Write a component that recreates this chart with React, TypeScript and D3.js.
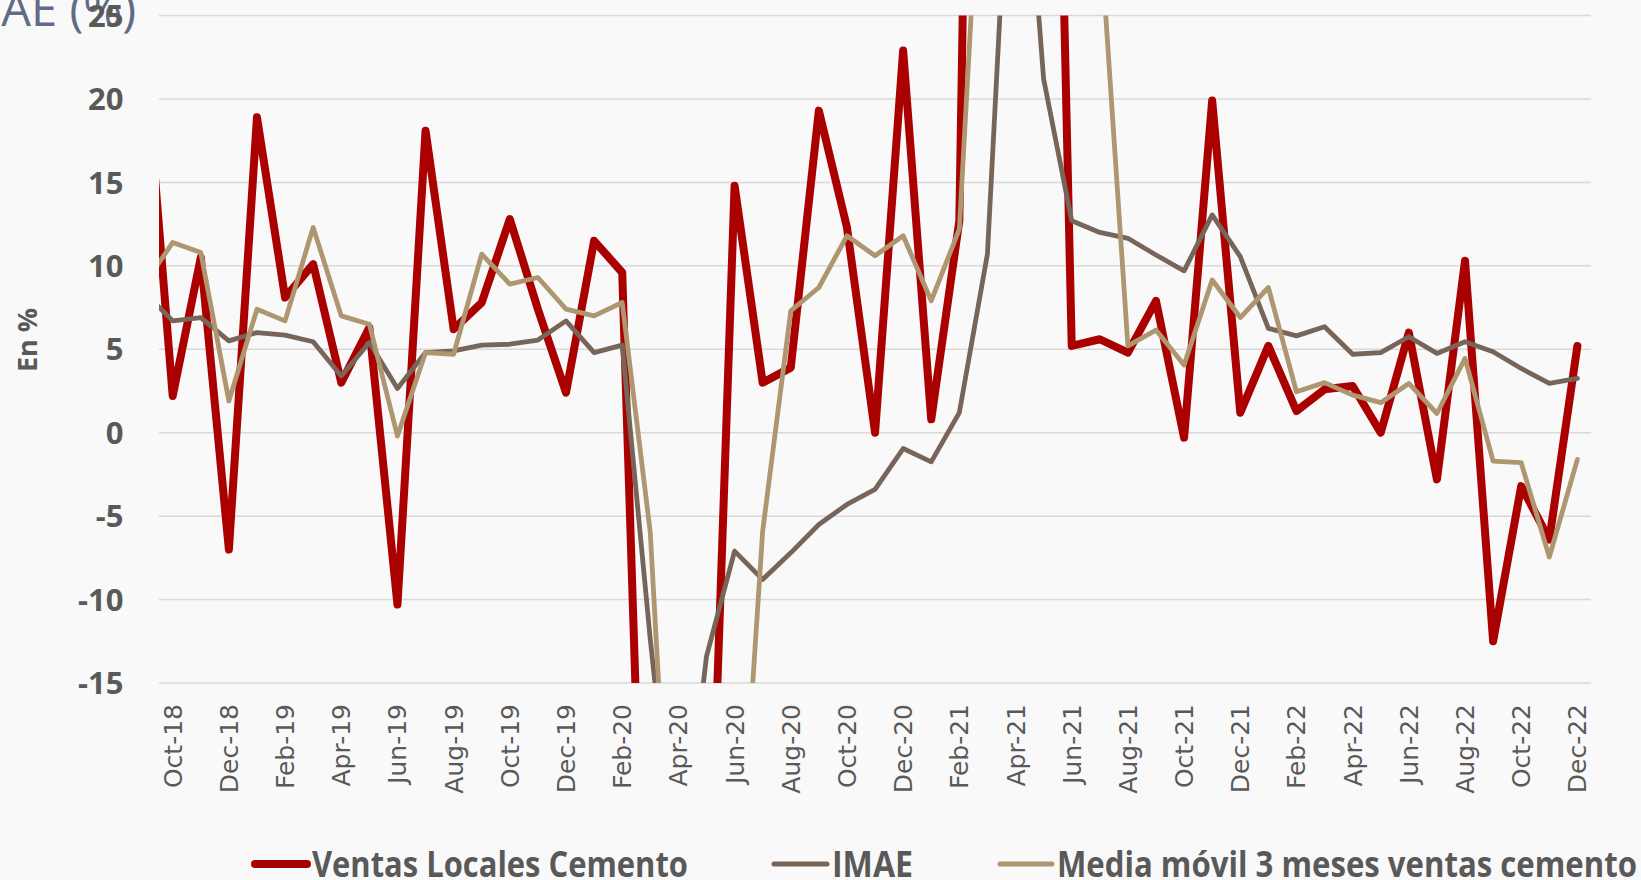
import React from 'react';
import * as d3 from 'd3';

const months = [
  'Sep-18', 'Oct-18', 'Nov-18', 'Dec-18',
  'Jan-19', 'Feb-19', 'Mar-19', 'Apr-19', 'May-19', 'Jun-19', 'Jul-19', 'Aug-19', 'Sep-19', 'Oct-19', 'Nov-19', 'Dec-19',
  'Jan-20', 'Feb-20', 'Mar-20', 'Apr-20', 'May-20', 'Jun-20', 'Jul-20', 'Aug-20', 'Sep-20', 'Oct-20', 'Nov-20', 'Dec-20',
  'Jan-21', 'Feb-21', 'Mar-21', 'Apr-21', 'May-21', 'Jun-21', 'Jul-21', 'Aug-21', 'Sep-21', 'Oct-21', 'Nov-21', 'Dec-21',
  'Jan-22', 'Feb-22', 'Mar-22', 'Apr-22', 'May-22', 'Jun-22', 'Jul-22', 'Aug-22', 'Sep-22', 'Oct-22', 'Nov-22', 'Dec-22',
];

const ventas = [
  23, 2.2, 10.5, -7.0,
  18.9, 8.1, 10.1, 3.0, 6.3, -10.3, 18.1, 6.2, 7.8, 12.8, 7.4, 2.4,
  11.5, 9.6, -43, -76, -34, 14.8, 3.0, 3.9, 19.3, 12.3, 0.0, 22.9,
  0.8, 12.7, 115, 250, 80, 5.2, 5.6, 4.8, 7.9, -0.3, 19.9, 1.2,
  5.2, 1.3, 2.6, 2.8, 0.0, 6.0, -2.8, 10.3, -12.5, -3.2, -6.4, 5.2,
];

const imae = [
  8.4, 6.7, 6.9, 5.5,
  6.0, 5.85, 5.45, 3.4, 5.4, 2.65, 4.8, 4.9, 5.25, 5.3, 5.55, 6.7,
  4.8, 5.25, -12.4, -28, -13.4, -7.1, -8.8, -7.2, -5.5, -4.3, -3.4, -0.95,
  -1.75, 1.2, 10.7, 43, 21.2, 12.7, 12.0, 11.65, 10.65, 9.7, 13.05, 10.55,
  6.25, 5.8, 6.35, 4.7, 4.8, 5.75, 4.75, 5.45, 4.85, 3.85, 2.95, 3.25,
];

const media = [
  8.9, 11.4, 10.8, 1.9,
  7.4, 6.7, 12.3, 7.0, 6.5, -0.2, 4.8, 4.7, 10.7, 8.9, 9.3, 7.4,
  7.0, 7.8, -6.0, -36.5, -51, -31.7, -5.9, 7.3, 8.7, 11.8, 10.6, 11.8,
  7.9, 12.2, 42.8, 125.9, 148, 111.7, 30.3, 5.2, 6.15, 4.05, 9.15, 6.9,
  8.7, 2.45, 3.0, 2.25, 1.8, 2.95, 1.15, 4.45, -1.7, -1.8, -7.45, -1.6,
];

const yTicks = [25, 20, 15, 10, 5, 0, -5, -10, -15];

const seriesNames = ['Ventas Locales Cemento', 'IMAE', 'Media móvil 3 meses ventas cemento'];
const seriesColors = ['#AA0000', '#776559', '#AD9670'];

export default function App() {
  const W = 1641;
  const H = 880;
  const plotLeft = 159;
  const plotRight = 1591;
  const plotTop = 15.5;
  const plotBottom = 683;

  const x = d3.scaleLinear().domain([1, months.length - 1]).range([172.7, 1577.4]);
  const y = d3.scaleLinear().domain([-15, 25]).range([plotBottom, plotTop]);

  const line = d3
    .line<number>()
    .x((_, i) => x(i))
    .y((d) => y(d));

  const labelIdx = months.map((_, i) => i).filter((i) => i % 2 === 1);

  const legendItems = [
    { sx1: 255, sx2: 307, w: 8, tx: 312, tl: 376 },
    { sx1: 774, sx2: 827, w: 5, tx: 832, tl: 81 },
    { sx1: 1000, sx2: 1052, w: 5, tx: 1057, tl: 580 },
  ];

  return (
    <svg
      width={W}
      height={H}
      style={{ position: 'absolute', left: 0, top: 0, display: 'block' }}
    >
      <defs>
        <clipPath id="plotClip">
          <rect x={plotLeft} y={plotTop} width={plotRight - plotLeft} height={plotBottom - plotTop} />
        </clipPath>
        <filter id="shadow" x="-5%" y="-200%" width="110%" height="500%">
          <feDropShadow dx="0" dy="3" stdDeviation="2" floodColor="#000" floodOpacity="0.35" />
        </filter>
      </defs>
      <rect x={0} y={0} width={W} height={H} fill="#F9F9F9" />

      {/* title, partially cut off at the top-left edge */}
      <text
        x={136}
        y={26}
        textAnchor="end"
        fontFamily="'Open Sans', sans-serif"
        fontSize={47}
        fill="#5F6C84"
      >
        IMAE (%)
      </text>

      {/* gridlines */}
      {yTicks.map((t) => (
        <line
          key={'g' + t}
          x1={plotLeft}
          x2={plotRight}
          y1={y(t)}
          y2={y(t)}
          stroke="#D9D9D9"
          strokeWidth={1.5}
        />
      ))}

      {/* y tick labels */}
      {yTicks.map((t) => (
        <text
          key={'t' + t}
          x={123.5}
          y={y(t)}
          dy="0.36em"
          textAnchor="end"
          fontFamily="'Open Sans', sans-serif"
          fontWeight={700}
          fontSize={31}
          fill="#595959"
        >
          {t}
        </text>
      ))}

      {/* y axis title */}
      <text
        transform={`translate(27, ${340}) rotate(-90)`}
        textAnchor="middle"
        dy="0.36em"
        fontFamily="'Open Sans', sans-serif"
        fontWeight={700}
        fontSize={27}
        fill="#595959"
      >
        En %
      </text>

      {/* series */}
      <g clipPath="url(#plotClip)">
        <path d={line(ventas) || ''} fill="none" stroke={seriesColors[0]} strokeWidth={8} strokeLinejoin="round" strokeLinecap="round" />
        <path d={line(imae) || ''} fill="none" stroke={seriesColors[1]} strokeWidth={4.8} strokeLinejoin="round" strokeLinecap="round" />
        <path d={line(media) || ''} fill="none" stroke={seriesColors[2]} strokeWidth={4.8} strokeLinejoin="round" strokeLinecap="round" />
        <line
          x1={plotLeft}
          x2={x(months.length - 1)}
          y1={y(0)}
          y2={y(0)}
          stroke="#455262"
          strokeWidth={5}
          filter="url(#shadow)"
        />
      </g>

      {/* x labels */}
      {labelIdx.map((i) => (
        <text
          key={'x' + i}
          transform={`translate(${x(i)}, 704) rotate(-90)`}
          textAnchor="end"
          dy="0.36em"
          fontFamily="'DejaVu Sans', sans-serif"
          fontSize={25}
          fill="#595959"
        >
          {months[i]}
        </text>
      ))}

      {/* legend */}
      {legendItems.map((it, k) => (
        <g key={'l' + k}>
          <line
            x1={it.sx1}
            x2={it.sx2}
            y1={864}
            y2={864}
            stroke={seriesColors[k]}
            strokeWidth={it.w}
            strokeLinecap="round"
          />
          <text
            x={it.tx}
            y={877}
            textLength={it.tl}
            lengthAdjust="spacingAndGlyphs"
            fontFamily="'Open Sans', sans-serif"
            fontWeight={700}
            fontSize={36}
            fill="#595959"
          >
            {seriesNames[k]}
          </text>
        </g>
      ))}
    </svg>
  );
}
